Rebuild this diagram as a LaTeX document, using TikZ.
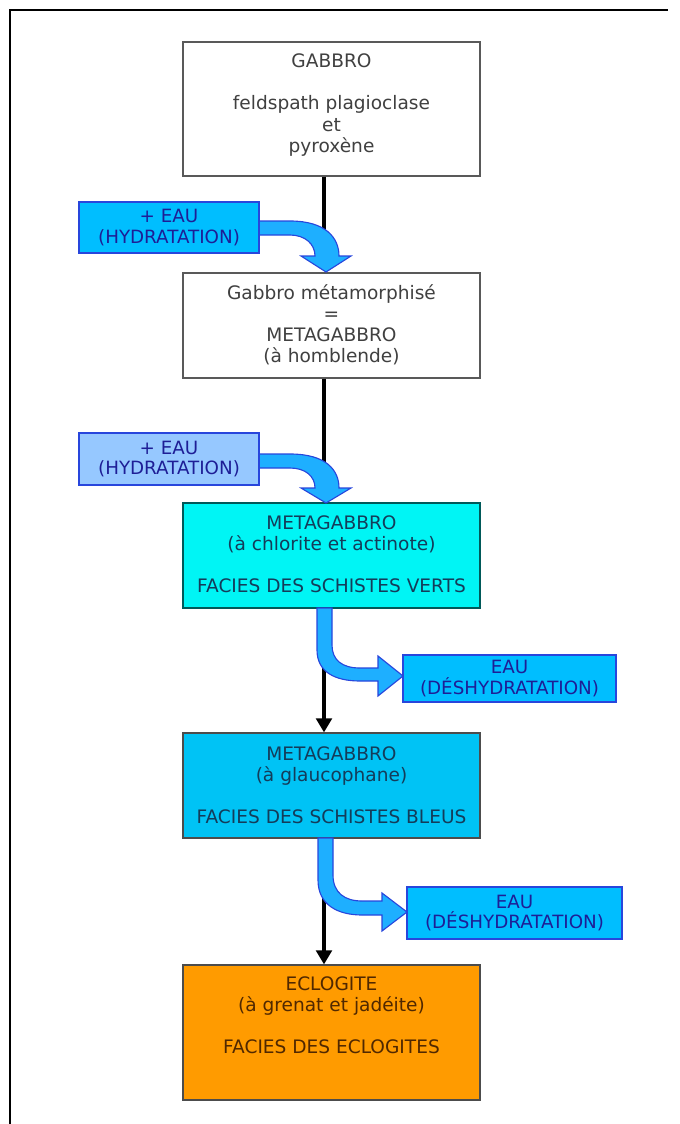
\documentclass[tikz,border=0pt]{standalone}
\usepackage{fontspec}
\setmainfont{DejaVu Sans}
\usetikzlibrary{arrows.meta}

\definecolor{edgeblue}{RGB}{40,70,220}
\definecolor{waterblue}{RGB}{0,190,255}
\definecolor{paleblue}{RGB}{150,200,255}
\definecolor{flowblue}{RGB}{30,175,255}
\definecolor{vertcyan}{RGB}{0,245,245}
\definecolor{bleucyan}{RGB}{0,195,245}
\definecolor{eclorange}{RGB}{255,155,0}
\definecolor{inkblue}{RGB}{30,30,150}
\definecolor{inkteal}{RGB}{20,60,90}
\definecolor{inkbrown}{RGB}{80,40,0}

\def\px{0.025cm}

\tikzset{
  rock/.style={draw=black!65, line width=0.8pt, minimum width=297*\px, inner sep=0pt},
  rocktext/.style={align=center, font=\fontsize{13.2}{15}\selectfont, text=black!75},
  water/.style={draw=edgeblue, line width=0.8pt, fill=waterblue, text=inkblue,
    align=center, font=\fontsize{13}{14.5}\selectfont, inner sep=0pt},
  flow/.style={draw=edgeblue, line width=0.8pt, fill=flowblue},
  stem/.style={line width=3.3pt, black},
}

\begin{document}
\begin{tikzpicture}[x=\px, y=-\px]
        \useasboundingbox (0,0) rectangle (679,1124);
        \draw[line width=2pt] (10,1124) -- (10,10) -- (668,10);

        % the rock boxes
        \node[rock, fill=white, minimum height=134*\px] (gabbro) at (331.5,109) {};
        \node[rock, fill=white, minimum height=105*\px] (metag) at (331.5,325.5) {};
        \node[rock, fill=vertcyan, draw=teal!70!black, minimum height=105*\px] (verts) at (331.5,555.5) {};
        \node[rock, fill=bleucyan, draw=black!70, minimum height=105*\px] (bleus) at (331.5,785.5) {};
        \node[rock, fill=eclorange, draw=black!70, minimum height=135*\px] (eclog) at (331.5,1032.5) {};

        \node[rocktext] (gabbrotxt) at (gabbro|-0,105) {GABBRO\\[15pt]feldspath plagioclase\\et\\pyroxène};
        \node[rocktext] (metagtxt) at (metag|-0,324.5) {Gabbro métamorphisé\\=\\METAGABBRO\\(à homblende)};
        \node[rocktext, text=inkteal] (vertstxt) at (verts|-0,554.5) {METAGABBRO\\(à chlorite et actinote)\\[15pt]FACIES DES SCHISTES VERTS};
        \node[rocktext, text=inkteal] (bleustxt) at (bleus|-0,785.5) {METAGABBRO\\(à glaucophane)\\[15pt]FACIES DES SCHISTES BLEUS};
        \node[rocktext, text=inkbrown] (eclogtxt) at (eclog|-0,1015) {ECLOGITE\\(à grenat et jadéite)\\[15pt]FACIES DES ECLOGITES};

        % black stems between the boxes
        \draw[stem] ([xshift=-7.5*\px]gabbro.south) -- ([xshift=-7.5*\px, yshift=15*\px]metag.north);
        \draw[stem] ([xshift=-7.5*\px]metag.south) -- ([xshift=-7.5*\px, yshift=15*\px]verts.north);
        \draw[stem, -{Triangle[width=11pt,length=10pt]}] ([xshift=-7.5*\px]verts.south) -- ([xshift=-7.5*\px]bleus.north);
        \draw[stem, -{Triangle[width=11pt,length=10pt]}] ([xshift=-7.5*\px]bleus.south) -- ([xshift=-7.5*\px]eclog.north);

        % water in
        \draw[flow] (259,221) -- (290,221) .. controls (326,221) and (339,238) .. (339,256)
          -- (351,256) -- (326,272) -- (301,256) -- (315,256)
          .. controls (315,244) and (305,235) .. (290,235) -- (259,235) -- cycle;
        \draw[flow] (259,454) -- (290,454) .. controls (326,454) and (339,470) .. (339,488)
          -- (351,488) -- (326,503) -- (301,488) -- (315,488)
          .. controls (315,476) and (305,468) .. (290,468) -- (259,468) -- cycle;

        % water out
        \draw[flow] (317,608) -- (317,650) .. controls (317,672) and (335,681) .. (360,681)
          -- (378,681) -- (378,696) -- (403,676) -- (378,656) -- (378,668) -- (360,668)
          .. controls (342,668) and (332,660) .. (332,645) -- (332,608) -- cycle;
        \draw[flow] (318,838) -- (318,880) .. controls (318,905) and (338,915) .. (362,915)
          -- (382,915) -- (382,931) -- (407,912) -- (382,893) -- (382,901) -- (362,901)
          .. controls (345,901) and (333,893) .. (333,875) -- (333,838) -- cycle;

        \node[water, minimum width=180*\px, minimum height=51*\px] (hyd1) at (169,227.5) {+ EAU\\(HYDRATATION)};
        \node[water, fill=paleblue, minimum width=180*\px, minimum height=52*\px] (hyd2) at (169,459) {+ EAU\\(HYDRATATION)};
        \node[water, minimum width=213*\px, minimum height=47*\px] (dehyd1) at (509.5,678.5) {EAU\\(DÉSHYDRATATION)};
        \node[water, minimum width=215*\px, minimum height=52*\px] (dehyd2) at (514.5,913) {EAU\\(DÉSHYDRATATION)};
\end{tikzpicture}
\end{document}
